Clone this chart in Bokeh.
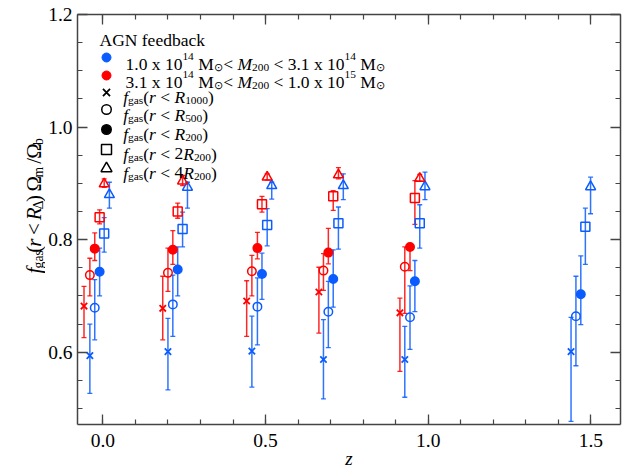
import numpy as np
from bokeh.plotting import figure
from bokeh.layouts import row
from bokeh.models import (ColumnDataSource, Whisker, TeeHead, Label, LinearAxis,
                          FixedTicker, Range1d, PrintfTickFormatter)
from bokeh.embed import file_html
from bokeh.resources import INLINE

# ---------------- data ----------------
# Blue: 1.0e14 < M200 < 3.1e14 ; Red: 3.1e14 < M200 < 1.0e15
blue_r1000_z = [-0.040, 0.200, 0.458, 0.678, 0.928, 1.439]
blue_r1000_f = [0.594, 0.601, 0.602, 0.587, 0.587, 0.601]
blue_r1000_lo = [0.527, 0.533, 0.538, 0.517, 0.520, 0.477]
blue_r1000_hi = [0.650, 0.660, 0.664, 0.658, 0.646, 0.662]

blue_r500_z = [-0.025, 0.215, 0.475, 0.693, 0.944, 1.454]
blue_r500_f = [0.679, 0.685, 0.681, 0.672, 0.662, 0.664]
blue_r500_lo = [0.622, 0.628, 0.613, 0.608, 0.605, 0.576]
blue_r500_hi = [0.729, 0.737, 0.732, 0.726, 0.718, 0.735]

blue_r200_z = [-0.010, 0.230, 0.489, 0.708, 0.959, 1.469]
blue_r200_f = [0.743, 0.747, 0.739, 0.730, 0.726, 0.703]
blue_r200_lo = [0.700, 0.700, 0.694, 0.680, 0.672, 0.649]
blue_r200_hi = [0.785, 0.787, 0.776, 0.782, 0.763, 0.771]

blue_2r200_z = [0.004, 0.245, 0.505, 0.724, 0.974, 1.483]
blue_2r200_f = [0.811, 0.819, 0.826, 0.829, 0.829, 0.823]
blue_2r200_lo = [0.778, 0.787, 0.789, 0.783, 0.785, 0.756]
blue_2r200_hi = [0.839, 0.849, 0.855, 0.858, 0.862, 0.856]

blue_4r200_z = [0.020, 0.260, 0.519, 0.739, 0.990, 1.499]
blue_4r200_f = [0.880, 0.893, 0.896, 0.896, 0.894, 0.894]
blue_4r200_lo = [0.856, 0.856, 0.872, 0.871, 0.871, 0.846]
blue_4r200_hi = [0.902, 0.902, 0.902, 0.917, 0.920, 0.911]

red_r1000_z = [-0.058, 0.184, 0.442, 0.664, 0.913]
red_r1000_f = [0.682, 0.678, 0.691, 0.707, 0.670]
red_r1000_lo = [0.626, 0.622, 0.628, 0.634, 0.566]
red_r1000_hi = [0.717, 0.735, 0.727, 0.751, 0.696]

red_r500_z = [-0.040, 0.200, 0.458, 0.678, 0.928]
red_r500_f = [0.737, 0.741, 0.744, 0.745, 0.752]
red_r500_lo = [0.700, 0.708, 0.700, 0.710, 0.669]
red_r500_hi = [0.767, 0.785, 0.772, 0.775, 0.787]

red_r200_z = [-0.025, 0.215, 0.475, 0.693, 0.944]
red_r200_f = [0.784, 0.782, 0.785, 0.777, 0.787]
red_r200_lo = [0.763, 0.756, 0.766, 0.757, 0.745]
red_r200_hi = [0.812, 0.816, 0.813, 0.820, 0.790]

red_2r200_z = [-0.010, 0.230, 0.489, 0.708, 0.959]
red_2r200_f = [0.840, 0.850, 0.863, 0.877, 0.874]
red_2r200_lo = [0.828, 0.838, 0.849, 0.852, 0.827]
red_2r200_hi = [0.853, 0.865, 0.877, 0.887, 0.905]

red_4r200_z = [0.004, 0.245, 0.505, 0.724, 0.974]
red_4r200_f = [0.899, 0.904, 0.911, 0.915, 0.909]
red_4r200_lo = [0.893, 0.896, 0.906, 0.908, 0.904]
red_4r200_hi = [0.908, 0.914, 0.917, 0.928, 0.916]

x_tick_vals = [0.0, 0.5, 1.0, 1.5]
x_tick_labels = ["0.0", "0.5", "1.0", "1.5"]
y_tick_vals = [0.6, 0.8, 1.0, 1.2]
y_tick_labels = ["0.6", "0.8", "1.0", "1.2"]

# ---------------- layout constants ----------------
BLUE = "#0a5cff"
RED = "#ff0000"
AXC = "#444444"
FONT = "Liberation Serif"

PAGE_W, PAGE_H = 626, 475
YW = 45                            # width of the strip holding the y title
FRAME_L, FRAME_T = 77, 14          # page pixels
FRAME_W, FRAME_H = 543, 410
X0, X1 = -0.078, 1.591
Y0, Y1 = 0.4716, 1.2
SX = FRAME_W / (X1 - X0)
SY = FRAME_H / (Y1 - Y0)


def dx(px):
    return X0 + (px - FRAME_L) / SX


def dy(py):
    return Y1 - (py - FRAME_T) / SY


p = figure(frame_width=FRAME_W, frame_height=FRAME_H,
           x_range=Range1d(X0, X1), y_range=Range1d(Y0, Y1),
           output_backend="svg", toolbar_location=None,
           min_border_left=FRAME_L - YW, min_border_right=PAGE_W - FRAME_L - FRAME_W,
           min_border_top=FRAME_T, min_border_bottom=PAGE_H - FRAME_T - FRAME_H)
p.xgrid.visible = False
p.ygrid.visible = False
p.outline_line_color = None
p.background_fill_color = "white"
p.border_fill_color = "white"

x_minor = list(np.round(np.arange(0.0, 1.6001, 0.1), 3))
y_minor = list(np.round(np.arange(0.5, 1.2001, 0.05), 3))
xt = FixedTicker(ticks=x_tick_vals, minor_ticks=x_minor)
yt = FixedTicker(ticks=y_tick_vals, minor_ticks=y_minor)


def style_axis(ax, ticker, labels_on, vals=None, labels=None):
    ax.ticker = ticker
    ax.axis_line_color = AXC
    ax.axis_line_width = 1.5
    ax.major_tick_line_color = AXC
    ax.minor_tick_line_color = AXC
    ax.major_tick_line_width = 1.3
    ax.minor_tick_line_width = 1.2
    ax.major_tick_in = 10
    ax.major_tick_out = 0
    ax.minor_tick_in = 5
    ax.minor_tick_out = 0
    if labels_on:
        ax.formatter = PrintfTickFormatter(format="%.1f")
        ax.major_label_overrides = dict(zip(vals, labels))
        ax.major_label_text_font = FONT
        ax.major_label_text_font_size = "19.5px"
        ax.major_label_text_color = "black"
    else:
        # mirrored axis: ticks only
        ax.major_label_overrides = {v: "" for v in ticker.ticks}
        ax.major_label_text_font_size = "0px"
        ax.major_label_standoff = 0


style_axis(p.xaxis[0], xt, True, x_tick_vals, x_tick_labels)
p.xaxis[0].major_label_standoff = 9
p.xaxis[0].axis_label = "z"
p.xaxis[0].axis_label_text_font = FONT
p.xaxis[0].axis_label_text_font_size = "19px"
p.xaxis[0].axis_label_text_font_style = "italic"
p.xaxis[0].axis_label_text_color = "black"
p.xaxis[0].axis_label_standoff = -2
style_axis(p.yaxis[0], yt, True, y_tick_vals, y_tick_labels)
p.yaxis[0].major_label_standoff = 5

top = LinearAxis()
style_axis(top, xt, False)
p.add_layout(top, "above")
right = LinearAxis()
style_axis(right, yt, False)
p.add_layout(right, "right")

# ---------------- data series ----------------
series = [
    (blue_r1000_z, blue_r1000_f, blue_r1000_lo, blue_r1000_hi, BLUE, "x", False),
    (blue_r500_z, blue_r500_f, blue_r500_lo, blue_r500_hi, BLUE, "circle", False),
    (blue_r200_z, blue_r200_f, blue_r200_lo, blue_r200_hi, BLUE, "circle", True),
    (blue_2r200_z, blue_2r200_f, blue_2r200_lo, blue_2r200_hi, BLUE, "square", False),
    (blue_4r200_z, blue_4r200_f, blue_4r200_lo, blue_4r200_hi, BLUE, "triangle", False),
    (red_r1000_z, red_r1000_f, red_r1000_lo, red_r1000_hi, RED, "x", False),
    (red_r500_z, red_r500_f, red_r500_lo, red_r500_hi, RED, "circle", False),
    (red_r200_z, red_r200_f, red_r200_lo, red_r200_hi, RED, "circle", True),
    (red_2r200_z, red_2r200_f, red_2r200_lo, red_2r200_hi, RED, "square", False),
    (red_4r200_z, red_4r200_f, red_4r200_lo, red_4r200_hi, RED, "triangle", False),
]

MSIZE = {"x": 9, "circle": 8.5, "square": 9, "triangle": 10}

for z, f, lo, hi, col, mk, filled in series:
    src = ColumnDataSource(dict(z=z, f=f, lo=lo, hi=hi))
    w = Whisker(source=src, base="z", upper="hi", lower="lo", dimension="height",
                line_color=col, line_width=1.5, line_alpha=0.85,
                upper_head=TeeHead(size=5, line_color=col, line_width=1.3, line_alpha=0.85),
                lower_head=TeeHead(size=5, line_color=col, line_width=1.3, line_alpha=0.85))
    w.level = "underlay"
    p.add_layout(w)
    p.scatter("z", "f", source=src, marker=mk, size=MSIZE[mk],
              line_color=col, line_width=1.8 if mk == "x" else 1.5,
              fill_color=col if filled else None)

# ---------------- rich text helpers ----------------
REG = {' ': 250, '.': 250, 'x': 500, 'M': 889, '<': 564, 'A': 722, 'G': 722,
       'N': 722, 'f': 333, 'e': 444, 'd': 500, 'b': 500, 'a': 444, 'c': 444,
       'k': 500, 'g': 500, 's': 389, '(': 333, ')': 333, '/': 278,
       '\u03a9': 768, '\u0394': 612, '\u2299': 840, 'm': 778}
for d in "0123456789":
    REG[d] = 500
ITA = {'f': 278, 'r': 389, 'R': 611, 'M': 833, 'z': 389, ' ': 250}


def tw(s, italic, size):
    t = ITA if italic else REG
    return sum(t.get(ch, 500) for ch in s) * size / 1000.0


def place_runs(fig, cx, cy, runs, x0, base, F, vertical=False):
    """runs: (text, kind, italic); kind in 'n', 'sub', 'sup'.
    Horizontal: x0 = page x start, base = page baseline y.
    Vertical (reads upwards): x0 = page y start, base = page baseline x."""
    pos = x0
    for text, kind, it in runs:
        size = F if kind == "n" else F * 0.65
        up = 0.0
        if kind == "sub":
            up = -0.22 * F
        elif kind == "sup":
            up = 0.42 * F
        stripped = text.lstrip(" ")
        lead = tw(text[:len(text) - len(stripped)], it, size)
        core = stripped.rstrip(" ")
        if core:
            if not vertical:
                lx, ly_ = pos + lead, base - up
                lab = Label(x=cx(lx), y=cy(ly_), text=core)
            else:
                lx, ly_ = base - up, pos - lead
                lab = Label(x=cx(lx), y=cy(ly_), text=core, angle=np.pi / 2)
            lab.text_font = FONT
            lab.text_font_size = "%.1fpx" % size
            lab.text_font_style = "italic" if it else "normal"
            lab.text_color = "black"
            lab.text_baseline = "alphabetic"
            lab.text_align = "left"
            fig.add_layout(lab)
        adv = tw(text, it, size)
        pos = pos + adv if not vertical else pos - adv


# ---------------- legend ----------------
LF = 17.5
SUN = "\u2299"
place_runs(p, dx, dy, [("AGN feedback", "n", False)], 99, 39, LF)

line1 = [("1.0 x 10", "n", False), ("14", "sup", False), (" M", "n", False),
         (SUN, "sub", False), ("< ", "n", False), ("M", "n", True),
         ("200", "sub", False), (" < 3.1 x 10", "n", False), ("14", "sup", False),
         (" M", "n", False), (SUN, "sub", False)]
line2 = [("3.1 x 10", "n", False), ("14", "sup", False), (" M", "n", False),
         (SUN, "sub", False), ("< ", "n", False), ("M", "n", True),
         ("200", "sub", False), (" < 1.0 x 10", "n", False), ("15", "sup", False),
         (" M", "n", False), (SUN, "sub", False)]
place_runs(p, dx, dy, line1, 125, 63, LF)
place_runs(p, dx, dy, line2, 125, 81, LF)


def fgas_runs(pre, sub):
    r = [("f", "n", True), ("gas", "sub", False), ("(", "n", False), ("r", "n", True),
         (" < ", "n", False)]
    if pre:
        r.append((pre, "n", False))
    r += [("R", "n", True), (sub, "sub", False), (")", "n", False)]
    return r


fg_rows = [("", "1000", 96), ("", "500", 114), ("", "200", 133),
           ("2", "200", 153), ("4", "200", 172)]
for pre, sub, base in fg_rows:
    place_runs(p, dx, dy, fgas_runs(pre, sub), 122.7, base, LF)

# legend symbols
leg_src_col = ColumnDataSource(dict(x=[dx(106), dx(106)], y=[dy(57), dy(75)],
                                    c=[BLUE, RED]))
p.scatter("x", "y", source=leg_src_col, marker="circle", size=9,
          fill_color="c", line_color="c")
sym_y = [92, 109, 129, 149, 168]
sym_mk = ["x", "circle", "circle", "square", "triangle"]
sym_fill = [None, None, "black", None, None]
for yy, mk, fc in zip(sym_y, sym_mk, sym_fill):
    p.scatter([dx(106)], [dy(yy)], marker=mk, size=MSIZE[mk] + 1,
              line_color="black", line_width=1.8 if mk == "x" else 1.5,
              fill_color=fc)

# ---------------- y title strip (data coordinates = page pixels) ----------------
ly = figure(width=YW, height=PAGE_H, x_range=Range1d(0, YW), y_range=Range1d(PAGE_H, 0),
            output_backend="svg", toolbar_location=None,
            x_axis_type=None, y_axis_type=None,
            min_border_left=0, min_border_right=0, min_border_top=0, min_border_bottom=0)
ly.outline_line_color = None
ly.background_fill_color = "white"
ly.border_fill_color = "white"

ylab = [("f", "n", True), ("gas", "sub", False), ("(", "n", False), ("r", "n", True),
        (" < ", "n", False), ("R", "n", True), ("\u0394", "sub", False),
        (") ", "n", False), ("\u03a9", "n", False), ("m", "sub", False),
        (" /", "n", False), ("\u03a9", "n", False), ("b", "sub", False)]
place_runs(ly, lambda v: v, lambda v: v, ylab, 300, 33.5, 21, vertical=True)

layout = row(ly, p, spacing=0)
open("out.html", "w").write(file_html(layout, INLINE))
